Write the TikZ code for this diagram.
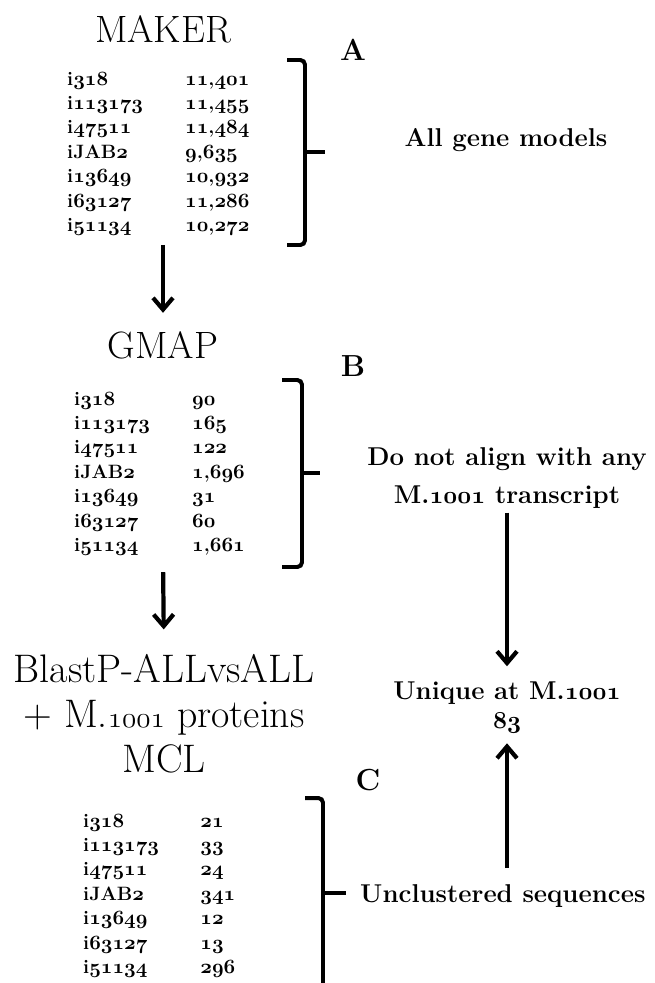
\documentclass[tikz,border=0pt]{standalone}
\usetikzlibrary{arrows.meta, positioning}
\newcommand{\onum}[1]{{\usefont{OML}{cmm}{b}{it}#1}}
\newcommand{\rnum}[1]{{\usefont{OML}{cmm}{m}{it}#1}}

\begin{document}
\begin{tikzpicture}[x=0.3mm, y=-0.3mm,
  title/.style={font=\fontsize{32.5}{38}\selectfont, inner sep=0pt, align=center},
  counts/.style={font=\fontsize{16.5}{20.9}\selectfont\bfseries, inner sep=0pt, anchor=base west},
  panel/.style={font=\fontsize{26}{30}\selectfont\bfseries, inner sep=0pt, anchor=base},
  note/.style={font=\fontsize{22}{32.4}\selectfont\bfseries, inner sep=0pt, align=center},
  flow/.style={-{Straight Barb[length=10pt, width=17pt]}, line width=3.6pt},
  brace/.style={line width=3.4pt, rounded corners=4pt}]
  \clip (0,0) rectangle (655,983);

  % Step titles
  \node[title, anchor=base] (maker) at (163,43) {MAKER};
  \node[title, anchor=base] (gmap) at (163,358) {GMAP};
  \node[title, font=\fontsize{34}{38}\selectfont, anchor=base] (blast) at (164,772) {BlastP-ALLvsALL\\+ M.\rnum{1001} proteins\\MCL};

  % Panel letters
  \node[panel] (labA) at (353,61) {A};
  \node[panel] (labB) at (353,376) {B};
  \node[panel] (labC) at (368,790) {C};

  % Counts per genome
  \node[counts] (tabA) at (67,85) {\begin{tabular}[t]{@{}p{100.7pt}@{}l@{}}
    i\onum{318} & \onum{11},\onum{401}\\
    i\onum{113173} & \onum{11},\onum{455}\\
    i\onum{47511} & \onum{11},\onum{484}\\
    iJAB\onum{2} & \onum{9},\onum{635}\\
    i\onum{13649} & \onum{10},\onum{932}\\
    i\onum{63127} & \onum{11},\onum{286}\\
    i\onum{51134} & \onum{10},\onum{272}
  \end{tabular}};

  \node[counts] (tabB) at (74,405) {\begin{tabular}[t]{@{}p{100.7pt}@{}l@{}}
    i\onum{318} & \onum{90}\\
    i\onum{113173} & \onum{165}\\
    i\onum{47511} & \onum{122}\\
    iJAB\onum{2} & \onum{1},\onum{696}\\
    i\onum{13649} & \onum{31}\\
    i\onum{63127} & \onum{60}\\
    i\onum{51134} & \onum{1},\onum{661}
  \end{tabular}};

  \node[counts] (tabC) at (83,827) {\begin{tabular}[t]{@{}p{100pt}@{}l@{}}
    i\onum{318} & \onum{21}\\
    i\onum{113173} & \onum{33}\\
    i\onum{47511} & \onum{24}\\
    iJAB\onum{2} & \onum{341}\\
    i\onum{13649} & \onum{12}\\
    i\onum{63127} & \onum{13}\\
    i\onum{51134} & \onum{296}
  \end{tabular}};

  % Brackets
  \draw[brace] (287,60) -- (305,60) -- (305,245) -- (287,245);
  \draw[brace] (305,152) -- (325,152);
  \draw[brace] (282,380) -- (302,380) -- (302,567) -- (282,567);
  \draw[brace] (302,473) -- (320,473);
  \draw[brace] (305,798) -- (323,798) -- (323,990) -- (305,990);
  \draw[brace] (323,893) -- (346,893);

  % Notes
  \node[note, anchor=base] (allgene) at (506,146) {All gene models};
  \node[note, anchor=base] (noalign) at (507,503) {Do not align with any\\M.\onum{1001} transcript};
  \node[note, font=\fontsize{22}{24}\selectfont\bfseries, anchor=base] (unique) at (507,728) {Unique at M.\onum{1001}\\\onum{83}};
  \node[note, anchor=base west] (unclustered) at (360,902) {Unclustered sequences};

  % Arrows
  \draw[flow, shorten <=4.7pt, shorten >=15.4pt] (tabA.south -| maker.south) -- (gmap.north);
  \draw[flow, shorten <=10.7pt, shorten >=21.5pt] (tabB.south -| gmap.south) -- (blast.north);
  \draw[flow, shorten <=3.8pt, shorten >=13.4pt] (noalign.south) -- (unique.north);
  \draw[flow, shorten <=13.4pt, shorten >=8.8pt] (unclustered.north -| unique.south) -- (unique.south);
\end{tikzpicture}
\end{document}
